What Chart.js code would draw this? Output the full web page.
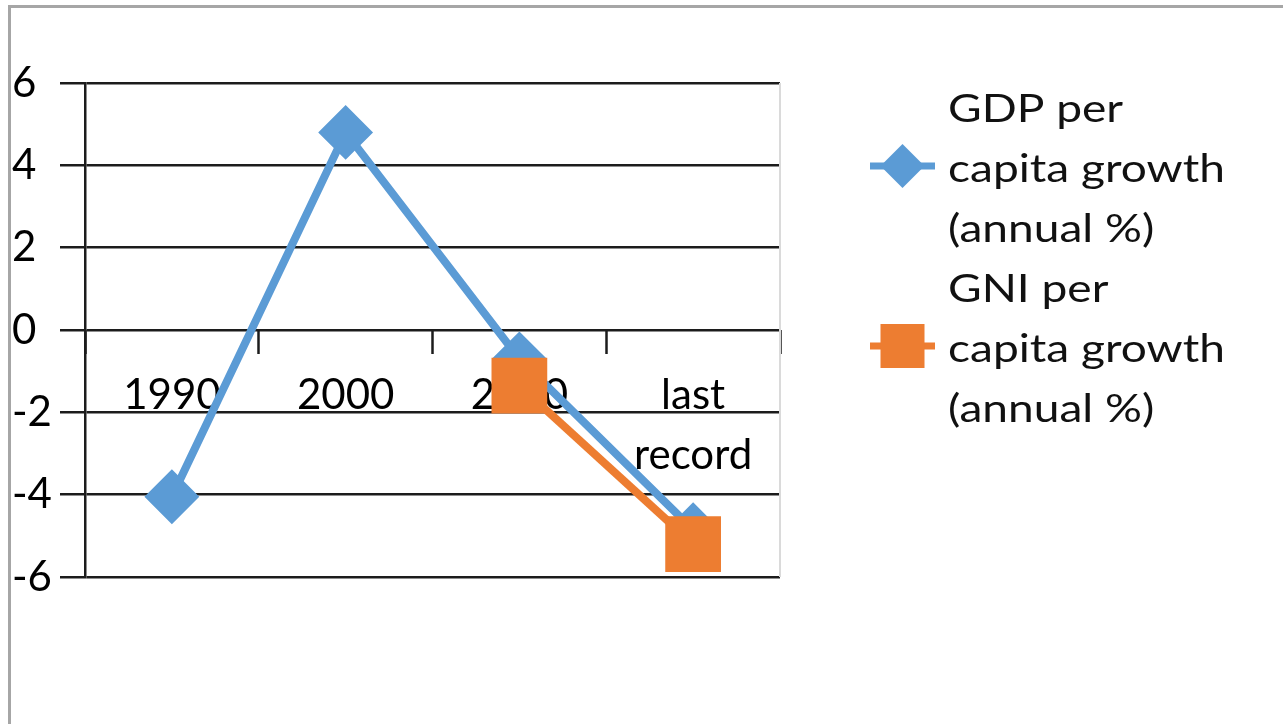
<!DOCTYPE html>
<html>
<head>
<meta charset="utf-8">
<script src="https://cdn.jsdelivr.net/npm/chart.js@4/dist/chart.umd.min.js"></script>
<style>
  html, body { margin: 0; padding: 0; background: #fff; }
  #frame { position: absolute; left: 8px; top: 5px; right: 0; bottom: 0;
           border-top: 3px solid #a6a6a6; border-left: 3px solid #a6a6a6; }
  #wrap { position: absolute; left: 0; top: 0; width: 1283px; height: 724px; }
</style>
</head>
<body>
<div id="frame"></div>
<div id="wrap"><canvas id="chart"></canvas></div>
<script>
// categories along the x axis (last one wraps on two lines)
var categories = ['1990', '2000', '2010', ['last', 'record']];

// series values
var gdpGrowth = [-4.05, 4.8, -0.7, -4.85];
var gniGrowth = [null, null, -1.35, -5.2];

var seriesNames = ['GDP per capita growth (annual %)', 'GNI per capita growth (annual %)'];
var legendLines = [
    ['GDP per', 'capita growth', '(annual %)'],
    ['GNI per', 'capita growth', '(annual %)']
];

// y axis ticks
var yMin = -6, yMax = 6, yStep = 2;

var blue = '#5b9bd5';
var orange = '#ed7d31';
var gridColor = '#1c1c1c';

Chart.defaults.font.family = 'Lato';

// faint right border of the plot area
var plotEdge = {
    id: 'plotEdge',
    beforeDatasetsDraw: function (chart) {
        var ctx = chart.ctx, a = chart.chartArea;
        ctx.save();
        ctx.strokeStyle = '#dadada';
        ctx.lineWidth = 2;
        ctx.beginPath();
        ctx.moveTo(a.right, a.top);
        ctx.lineTo(a.right, a.bottom);
        ctx.stroke();
        ctx.restore();
    }
};

// legend on the right, with wrapped labels like the original
var sideLegend = {
    id: 'sideLegend',
    afterDraw: function (chart) {
        var ctx = chart.ctx, a = chart.chartArea;
        var x0 = a.right + 90, tx = a.right + 168;
        var y = a.top + 39;
        ctx.save();
        ctx.font = '39px Lato';
        ctx.textBaseline = 'alphabetic';
        // the original text is a little wider than Lato, stretch it
        var sx = 277 / ctx.measureText('capita growth').width;
        chart.data.datasets.forEach(function (ds, i) {
            var lines = legendLines[i];
            ctx.fillStyle = '#111';
            lines.forEach(function (t, j) {
                ctx.save();
                ctx.translate(tx, y + j * 60);
                ctx.scale(sx, 1);
                ctx.fillText(t, 0, 0);
                ctx.restore();
            });
            var sy = y + 60 - 16;
            ctx.strokeStyle = ds.borderColor;
            ctx.lineWidth = 7;
            ctx.beginPath();
            ctx.moveTo(x0, sy);
            ctx.lineTo(x0 + 65, sy);
            ctx.stroke();
            var cx = x0 + 32.5;
            ctx.fillStyle = ds.borderColor;
            ctx.beginPath();
            if (ds.pointStyle === 'rectRot') {
                ctx.moveTo(cx - 22, sy);
                ctx.lineTo(cx, sy - 22);
                ctx.lineTo(cx + 22, sy);
                ctx.lineTo(cx, sy + 22);
                ctx.closePath();
            } else {
                ctx.rect(cx - 22, sy - 22, 44, 44);
            }
            ctx.fill();
            y += lines.length * 60;
        });
        ctx.restore();
    }
};

var chart = new Chart(document.getElementById('chart').getContext('2d'), {
    type: 'line',
    data: {
        labels: categories,
        datasets: [
            {
                label: seriesNames[0],
                data: gdpGrowth,
                borderColor: blue,
                backgroundColor: blue,
                borderWidth: 8,
                pointStyle: 'rectRot',
                pointRadius: 26,
                pointBorderWidth: 2,
                pointBackgroundColor: blue,
                pointBorderColor: blue,
                tension: 0,
                order: 2
            },
            {
                label: seriesNames[1],
                data: gniGrowth,
                borderColor: orange,
                backgroundColor: orange,
                borderWidth: 8,
                pointStyle: 'rect',
                pointRadius: 38,
                pointBorderWidth: 2,
                pointBackgroundColor: orange,
                pointBorderColor: orange,
                tension: 0,
                order: 1
            }
        ]
    },
    options: {
        responsive: true,
        maintainAspectRatio: false,
        animation: false,
        layout: { padding: { left: 12, top: 83, right: 503, bottom: 147 } },
        plugins: {
            legend: { display: false },
            tooltip: { enabled: false }
        },
        scales: {
            x: {
                position: { y: 0 },
                offset: true,
                grid: {
                    offset: true,
                    drawOnChartArea: false,
                    drawTicks: true,
                    tickLength: 24,
                    tickColor: gridColor,
                    tickWidth: 2.5
                },
                border: { display: false },
                ticks: {
                    color: '#000',
                    padding: 11,
                    maxRotation: 0,
                    font: { size: 42, lineHeight: 60 / 42 }
                }
            },
            y: {
                min: yMin,
                max: yMax,
                afterFit: function (s) { s.width = 73; },
                grid: {
                    color: gridColor,
                    lineWidth: 2.5,
                    tickLength: 25
                },
                border: { display: true, color: gridColor, width: 2.5 },
                ticks: {
                    stepSize: yStep,
                    color: '#000',
                    crossAlign: 'far',
                    padding: 0,
                    font: { size: 42 }
                }
            }
        }
    },
    plugins: [plotEdge, sideLegend]
});
</script>
</body>
</html>
